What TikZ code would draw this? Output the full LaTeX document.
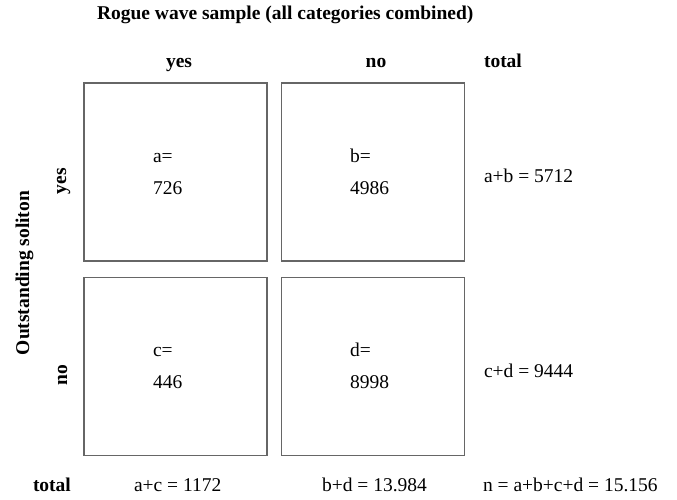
\documentclass[tikz,border=0pt]{standalone}
\usepackage{fontspec}
\setmainfont{Liberation Serif}
\begin{document}
\begin{tikzpicture}[x=1pt,y=-1pt,
  every node/.style={inner sep=0pt, outer sep=0pt, font=\fontsize{19.5}{22}\selectfont},
  cell/.style={draw=black!60, line width=1.2pt, minimum width=183pt, minimum height=178pt},
  hd/.style={font=\fontsize{19.5}{22}\selectfont\bfseries, anchor=base},
  val/.style={anchor=base west}]
\useasboundingbox (0,0) rectangle (677,499);
% title
\node[hd, anchor=base west] (title) at (97,19) {Rogue wave sample (all categories combined)};
% column headers
\node[hd] (hyes) at (179,67) {yes};
\node[hd] (hno) at (376,67) {no};
\node[hd, anchor=base west] (htot) at (484,67) {total};
% row headers
\node[hd, rotate=90] (rowlab) at (29,273) {Outstanding soliton};
\node[hd, rotate=90] (ryes) at (66,181) {yes};
\node[hd, rotate=90] (rno) at (67,375) {no};
% cells
\node[cell] (A) at (175.5,172) {};
\node[cell] (B) at (373,172) {};
\node[cell] (C) at (175.5,366.5) {};
\node[cell] (D) at (373,366.5) {};
% cell contents
\node[val] (a1) at (153,162) {a=};
\node[val] (a2) at (153,194) {726};
\node[val] (b1) at (350,162) {b=};
\node[val] (b2) at (350,194) {4986};
\node[val] (c1) at (153,356) {c=};
\node[val] (c2) at (153,388) {446};
\node[val] (d1) at (350,356) {d=};
\node[val] (d2) at (350,388) {8998};
% row totals
\node[val] (ab) at (484,182) {a+b = 5712};
\node[val] (cd) at (484,377) {c+d = 9444};
% bottom totals
\node[hd, anchor=base west] (btot) at (33,491) {total};
\node[val] (ac) at (134,491) {a+c = 1172};
\node[val] (bd) at (322,491) {b+d = 13.984};
\node[val] (n) at (483,491) {n = a+b+c+d = 15.156};
\end{tikzpicture}
\end{document}
